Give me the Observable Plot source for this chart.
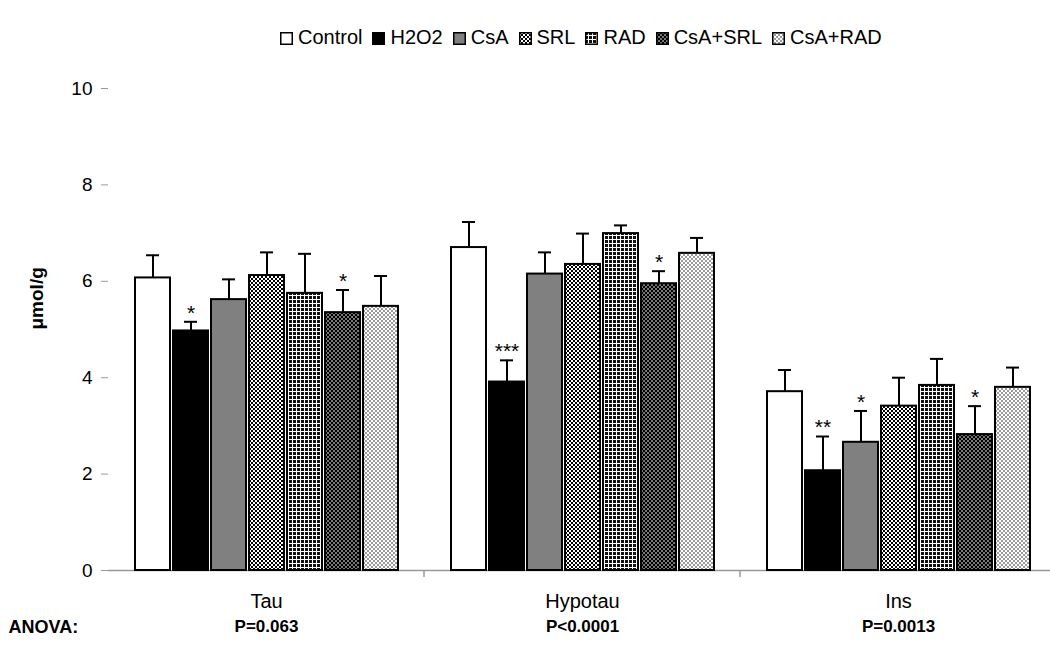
<!DOCTYPE html>
<html><head><meta charset="utf-8">
<script src="https://cdn.jsdelivr.net/npm/d3@7"></script>
<script src="https://cdn.jsdelivr.net/npm/@observablehq/plot@0.6"></script>
<style>
body{margin:0;background:#fff;font-family:"Liberation Sans",Arial,sans-serif;}
#legend{height:60px;position:relative;}
#legend .row{position:absolute;left:280px;top:27px;display:flex;align-items:center;font-size:20px;line-height:20px;color:#000;}
#legend .item{display:flex;align-items:center;margin-right:10px;}
#legend svg.sw{width:13px;height:13px;margin-right:5px;margin-top:3px;}
</style>
</head><body>
<svg width="0" height="0" style="position:absolute">
<defs>
<pattern id="p-srl" width="4" height="4" patternUnits="userSpaceOnUse">
<rect width="4" height="4" fill="#fff"/><rect width="2" height="2" fill="#000"/><rect x="2" y="2" width="2" height="2" fill="#000"/>
</pattern>
<pattern id="p-rad" width="4" height="4" patternUnits="userSpaceOnUse">
<rect width="4" height="4" fill="#fff"/><rect width="3" height="3" fill="#111"/>
</pattern>
<pattern id="p-csasrl" width="4" height="4" patternUnits="userSpaceOnUse">
<rect width="4" height="4" fill="#777"/><rect width="2" height="2" fill="#000"/><rect x="2" y="2" width="2" height="2" fill="#000"/>
</pattern>
<pattern id="p-csarad" width="4" height="4" patternUnits="userSpaceOnUse">
<rect width="4" height="4" fill="#fff"/><rect width="2" height="2" fill="#999"/><rect x="2" y="2" width="2" height="2" fill="#999"/>
</pattern>
</defs>
</svg>
<div id="legend"></div>
<div id="chart"></div>
<script>
// ---- data ----
const groups = ["Tau", "Hypotau", "Ins"];
const treatments = ["Control", "H2O2", "CsA", "SRL", "RAD", "CsA+SRL", "CsA+RAD"];
const fills = ["#fff", "#000", "#808080", "url(#p-srl)", "url(#p-rad)", "url(#p-csasrl)", "url(#p-csarad)"];

const tauMeans     = [6.07, 4.97, 5.62, 6.12, 5.75, 5.35, 5.48];
const tauErrors    = [0.47, 0.19, 0.42, 0.48, 0.82, 0.47, 0.63];
const tauStars     = ["", "*", "", "", "", "*", ""];

const hypotauMeans  = [6.70, 3.91, 6.15, 6.35, 6.99, 5.95, 6.58];
const hypotauErrors = [0.53, 0.45, 0.45, 0.64, 0.17, 0.26, 0.32];
const hypotauStars  = ["", "***", "", "", "", "*", ""];

const insMeans     = [3.71, 2.07, 2.66, 3.41, 3.84, 2.82, 3.80];
const insErrors    = [0.45, 0.71, 0.65, 0.59, 0.55, 0.59, 0.41];
const insStars     = ["", "**", "*", "", "", "*", ""];

const anovaP = ["P=0.063", "P<0.0001", "P=0.0013"];
const yTicks = [0, 2, 4, 6, 8, 10];

// ---- build table ----
const means = [tauMeans, hypotauMeans, insMeans];
const errors = [tauErrors, hypotauErrors, insErrors];
const stars = [tauStars, hypotauStars, insStars];
const data = [];
groups.forEach((g, gi) => treatments.forEach((t, ti) => data.push({
  group: g, treatment: t, mean: means[gi][ti], err: errors[gi][ti], sig: stars[gi][ti], fill: fills[ti]
})));
const pData = groups.map((g, i) => ({group: g, p: anovaP[i]}));

// ---- legend ----
const row = document.createElement("div");
row.className = "row";
treatments.forEach((t, i) => {
  const item = document.createElement("div");
  item.className = "item";
  item.innerHTML = `<svg class="sw" viewBox="0 0 13 13"><rect x="0.75" y="0.75" width="11.5" height="11.5" fill="${fills[i]}" stroke="#000" stroke-width="1.5"/></svg><span>${t}</span>`;
  row.appendChild(item);
});
document.getElementById("legend").appendChild(row);

// ---- chart ----
const font = "'Liberation Sans', Arial, sans-serif";
const chart = Plot.plot({
  width: 1050,
  height: 594,
  marginTop: 28,
  marginBottom: 84,
  marginLeft: 107,
  marginRight: 0,
  style: {fontFamily: font, fontSize: "18px", background: "#fff", color: "#000"},
  fx: {domain: groups, range: [107, 1056], padding: 0, label: null},
  x: {domain: treatments, paddingInner: 0.08, paddingOuter: 0.66, axis: null},
  y: {domain: [0, 10], label: null},
  color: {type: "identity"},
  marks: [
    Plot.ruleY([0], {stroke: "#999", strokeWidth: 1.5}),
    Plot.axisY({ticks: yTicks, tickSize: 7, tickPadding: 9, line: true, stroke: "#999", fill: "#000", fontSize: 19, label: null}),
    Plot.axisFx({anchor: "bottom", tickSize: 0, tickPadding: 23, fontSize: 20, label: null}),
    Plot.ruleX(data, {fx: "group", x: "treatment", y1: "mean", y2: d => d.mean + d.err, stroke: "#000", strokeWidth: 2}),
    Plot.tickY(data, {fx: "group", x: "treatment", y: d => d.mean + d.err, stroke: "#000", strokeWidth: 2, insetLeft: 11, insetRight: 11}),
    Plot.barY(data, {fx: "group", x: "treatment", y: "mean", fill: "fill", stroke: "#000", strokeWidth: 2}),
    Plot.text(data.filter(d => d.sig), {fx: "group", x: "treatment", y: d => d.mean + d.err, text: "sig", dy: -9, fontSize: 21, lineAnchor: "middle"}),
    Plot.text(pData, {fx: "group", text: "p", frameAnchor: "bottom", dy: 56, fontSize: 17, fontWeight: "bold", lineAnchor: "middle"}),
    Plot.text(["ANOVA:"], {facet: "super", frameAnchor: "bottom-left", dx: -100, dy: 57, textAnchor: "start", fontSize: 18, fontWeight: "bold", lineAnchor: "middle"}),
    Plot.text(["\u03bcmol/g"], {facet: "super", frameAnchor: "left", dx: -72, rotate: -90, fontSize: 19, fontWeight: "bold"})
  ]
});
document.getElementById("chart").appendChild(chart);

// group separator ticks on the category axis
const fxScale = chart.scale("fx");
const yScale = chart.scale("y");
const y0 = yScale.apply(0);
d3.select(chart).append("g")
  .selectAll("line")
  .data(groups.slice(1))
  .join("line")
  .attr("x1", g => fxScale.apply(g)).attr("x2", g => fxScale.apply(g))
  .attr("y1", y0).attr("y2", y0 + 7)
  .attr("stroke", "#999").attr("stroke-width", 1.5);
</script>
</body></html>
